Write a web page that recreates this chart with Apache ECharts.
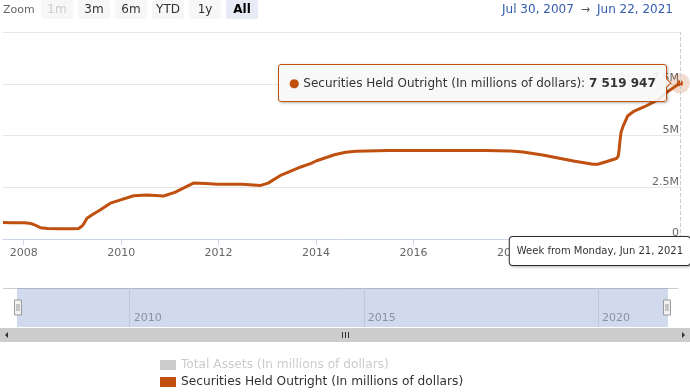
<!DOCTYPE html>
<html><head><meta charset="utf-8">
<script src="https://cdn.jsdelivr.net/npm/echarts@6/dist/echarts.min.js"></script>
<style>html,body{margin:0;padding:0;background:#fff;overflow:hidden}#c{width:690px;height:392px}</style>
</head><body><div id="c"></div>
<script>
// ---- data ----
const seriesNames = ['Total Assets (In millions of dollars)', 'Securities Held Outright (In millions of dollars)'];
const weekDates = ['2007-07-30','2007-10-01','2008-01-07','2008-02-25','2008-03-17','2008-03-31','2008-05-05','2008-06-30','2008-09-29','2008-12-29',
  '2009-02-16','2009-03-02','2009-03-16','2009-03-30','2009-04-20','2009-06-01','2009-07-27','2009-10-12','2009-12-28','2010-04-05',
  '2010-07-12','2010-11-15','2011-02-07','2011-06-27','2011-09-26','2011-12-26','2012-06-25','2012-11-12','2013-01-07','2013-04-15',
  '2013-09-09','2013-11-25','2014-01-06','2014-05-19','2014-08-11','2014-10-27','2015-06-29','2016-06-27','2017-06-26','2018-01-01',
  '2018-04-02','2018-08-27','2019-04-15','2019-09-09','2019-10-14','2019-12-16','2020-03-02','2020-03-16','2020-03-23','2020-03-30',
  '2020-04-06','2020-04-20','2020-05-25','2020-07-06','2020-09-28','2021-01-04','2021-03-22','2021-06-21'];
const heldOutright = [800000,790000,780000,745000,700000,620000,545000,505000,495000,495000,
  505000,540000,640000,770000,1000000,1180000,1400000,1730000,1890000,2090000,
  2120000,2080000,2250000,2700000,2680000,2650000,2640000,2590000,2700000,3090000,
  3480000,3650000,3780000,4070000,4190000,4240000,4270000,4280000,4270000,4250000,
  4200000,4060000,3770000,3610000,3610000,3730000,3890000,4000000,4350000,4800000,
  5150000,5430000,5940000,6150000,6390000,6710000,7120000,7519947];
const totalAssets = [];   // hidden series in the reference
const yTicks = [0, 2500000, 5000000, 7500000, 10000000];
const xTickYears = [2008, 2010, 2012, 2014, 2016, 2018, 2020];
const navTickYears = [2010, 2015, 2020];
const zoomButtons = ['1m','3m','6m','YTD','1y','All'];
const rangeStart = '2007-07-30';
const rangeEnd = '2021-06-22';

// ---- build ----
const C = '#c0500f';
const FONT = '"DejaVu Sans", Verdana, sans-serif';
const MONTHS = ['Jan','Feb','Mar','Apr','May','Jun','Jul','Aug','Sep','Oct','Nov','Dec'];
const toTime = s => new Date(s + 'T00:00:00').getTime();
const fmtDate = s => { const d = new Date(s + 'T00:00:00'); return MONTHS[d.getMonth()] + ' ' + d.getDate() + ', ' + d.getFullYear(); };
const fmtNum = v => String(v).replace(/\B(?=(\d{3})+(?!\d))/g, ' ');
const yearTime = y => new Date(y, 0, 1).getTime();
const points = weekDates.map((d, i) => [toTime(d), heldOutright[i]]);
const last = points.length - 1;

const graphics = [];
graphics.push({type:'text', x:3, y:10, style:{text:'Zoom', fill:'#666', font:'11px ' + FONT, verticalAlign:'middle'}});
zoomButtons.forEach((b, i) => {
  const x = 41 + i * 37;
  graphics.push({type:'rect', shape:{x:x, y:0, width:32, height:19, r:2}, style:{fill: i === 5 ? '#e6ebf5' : '#f7f7f7'}});
  graphics.push({type:'text', x:x + 16, y:10, style:{text:b, align:'center', verticalAlign:'middle',
    fill: i === 0 ? '#cccccc' : (i === 5 ? '#000' : '#333'), font:(i === 5 ? 'bold ' : '') + '12px ' + FONT}});
});
graphics.push({type:'text', x:673, y:10, style:{text:'{d|' + fmtDate(rangeStart) + '}{a|  \u2192  }{d|' + fmtDate(rangeEnd) + '}',
  align:'right', verticalAlign:'middle', font:'12px ' + FONT,
  rich:{d:{fill:'#335cad', font:'12px ' + FONT}, a:{fill:'#555', font:'11px ' + FONT}}}});
// navigator outline
graphics.push({type:'line', shape:{x1:3, y1:288.5, x2:678, y2:288.5}, style:{stroke:'#cccccc', lineWidth:1}});
// scrollbar
graphics.push({type:'rect', shape:{x:0, y:328, width:690, height:14}, style:{fill:'#cccccc'}});
graphics.push({type:'polygon', shape:{points:[[8,332],[8,338],[5,335]]}, style:{fill:'#333'}});
graphics.push({type:'polygon', shape:{points:[[682,332],[682,338],[685,335]]}, style:{fill:'#333'}});
[342.5, 345.5, 348.5].forEach(x => graphics.push({type:'line', shape:{x1:x, y1:332, x2:x, y2:338}, style:{stroke:'#333', lineWidth:1}}));

const chart = echarts.init(document.getElementById('c'), null, {renderer:'canvas'});
chart.setOption({
  animation:false,
  textStyle:{fontFamily:FONT},
  graphic:graphics,
  grid:[
    {left:3, right:10, top:32, bottom:153},
    {left:16, right:23, top:288, height:39}
  ],
  xAxis:[
    {type:'value', gridIndex:0, min:toTime(rangeStart), max:toTime(rangeEnd),
     axisLine:{show:true, lineStyle:{color:'#ccd6eb'}},
     axisTick:{show:true, length:6, lineStyle:{color:'#ccd6eb'}, customValues:xTickYears.map(yearTime)},
     axisLabel:{color:'#666', fontSize:11, margin:9, customValues:xTickYears.map(yearTime),
       formatter:v => String(new Date(v).getFullYear())},
     splitLine:{show:false},
     axisPointer:{show:true, type:'line', value:points[last][0], status:'show', triggerTooltip:false,
       lineStyle:{color:'#cccccc', width:1},
       label:{show:true, formatter:() => 'Week from Monday, ' + fmtDate(weekDates[last]),
         backgroundColor:'#fff', borderColor:'#333', borderWidth:1, color:'#333', fontSize:10,
         fontFamily:FONT, padding:[9,7,9,7], margin:-2, shadowBlur:3, shadowColor:'rgba(0,0,0,0.25)', shadowOffsetX:1, shadowOffsetY:1}}},
    {type:'value', gridIndex:1, min:toTime(rangeStart), max:toTime(rangeEnd),
     axisLine:{show:false}, axisTick:{show:false, customValues:navTickYears.map(yearTime)},
     axisLabel:{inside:true, color:'#999', fontSize:11, margin:3, align:'left', padding:[0,0,0,4], verticalAlign:'bottom',
       customValues:navTickYears.map(yearTime), formatter:v => String(new Date(v).getFullYear())},
     splitLine:{show:true, lineStyle:{color:'#e6e6e6', width:1}}}
  ],
  yAxis:[
    {type:'value', gridIndex:0, position:'right', min:yTicks[0], max:yTicks[yTicks.length-1], interval:yTicks[1]-yTicks[0],
     axisLine:{show:false}, axisTick:{show:false},
     axisLabel:{inside:true, color:'#666', fontSize:11, margin:1, verticalAlign:'bottom', showMaxLabel:false,
       formatter:v => v === 0 ? '0' : (v / 1e6) + 'M'},
     splitLine:{show:true, lineStyle:{color:'#e6e6e6', width:1}}},
    {type:'value', gridIndex:1, show:false, min:0, max:1}
  ],
  dataZoom:[{
    type:'slider', xAxisIndex:0, left:16, right:23, top:288, height:39, start:0, end:100,
    showDetail:false, showDataShadow:false, brushSelect:false, moveHandleSize:0,
    backgroundColor:'transparent', borderColor:'transparent', borderRadius:0,
    fillerColor:'rgba(102,133,194,0.3)',
    handleIcon:'path://M0,0 L7,0 L7,15 L0,15 Z M2.5,4 L2.5,11 M4.5,4 L4.5,11',
    handleSize:15,
    handleStyle:{color:'#f2f2f2', borderColor:'#999999', borderWidth:1},
    emphasis:{handleStyle:{color:'#f2f2f2', borderColor:'#999999'}}
  }],
  legend:{orient:'vertical', left:160, top:359, height:40, padding:0, itemWidth:16, itemHeight:10, itemGap:5, icon:'rect',
    textStyle:{fontSize:12.2, color:'#333', fontFamily:FONT}, inactiveColor:'#cccccc',
    data:seriesNames, selected:{[seriesNames[0]]:false}},
  tooltip:{trigger:'item', triggerOn:'none', alwaysShowContent:true, position:'left',
    backgroundColor:'rgba(247,247,247,0.9)', borderColor:C, borderWidth:1, padding:[9,10],
    textStyle:{fontSize:12, color:'#333', fontFamily:FONT},
    extraCssText:'box-shadow:1px 1px 3px rgba(0,0,0,0.3);border-radius:3px;',
    formatter:p => '<span style="color:' + C + '">\u25CF</span> ' + p.seriesName + ': <b>' + fmtNum(p.value[1]) + '</b>'},
  series:[
    {name:seriesNames[0], type:'line', xAxisIndex:0, yAxisIndex:0, data:totalAssets, color:'#999'},
    {name:seriesNames[1], type:'line', xAxisIndex:0, yAxisIndex:0, data:points, color:C,
     showSymbol:true, symbol:(v, p) => p.dataIndex === last ? 'circle' : 'none', symbolSize:6,
     lineStyle:{width:3, color:C}, itemStyle:{color:C}, z:3, emphasis:{disabled:true}},
    {name:'halo', type:'scatter', xAxisIndex:0, yAxisIndex:0, data:[points[last]], symbolSize:20,
     itemStyle:{color:'rgba(192,80,15,0.25)'}, silent:true, z:2, tooltip:{show:false}}
  ]
});
chart.dispatchAction({type:'showTip', seriesIndex:1, dataIndex:last});
</script>
</body></html>
